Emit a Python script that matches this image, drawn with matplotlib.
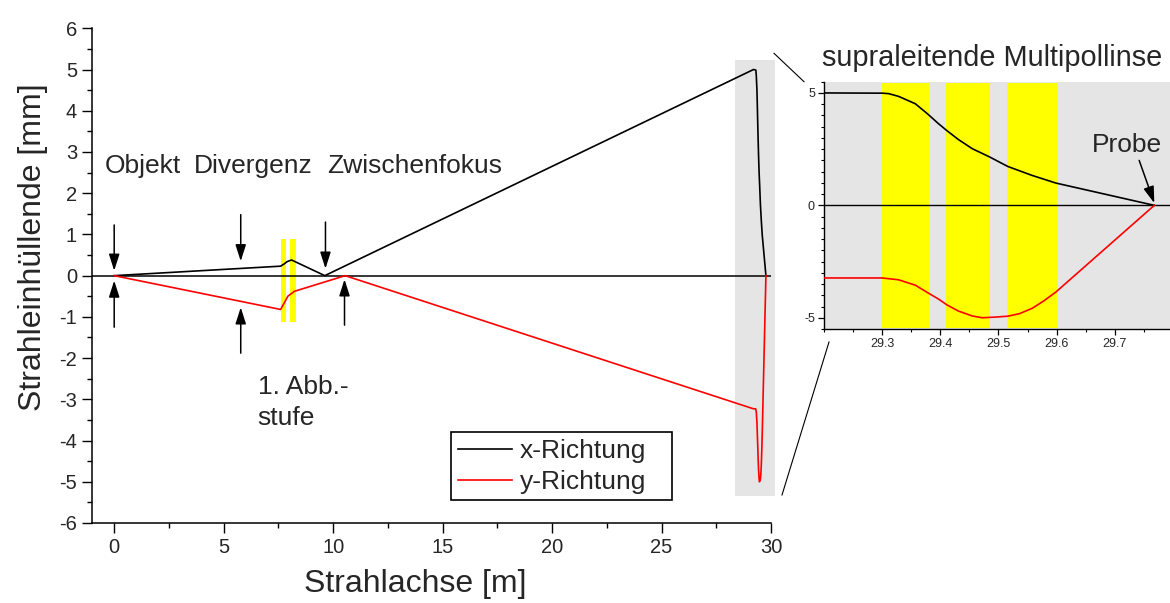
import matplotlib
matplotlib.use("Agg")
import matplotlib.pyplot as plt
from matplotlib.lines import Line2D
from matplotlib.patches import Rectangle

plt.rcParams['font.family'] = ['Liberation Sans', 'DejaVu Sans']
plt.rcParams['axes.unicode_minus'] = False

# Beam axis positions [m] and envelope values [mm]
pos_x = [0, 7.6, 7.75, 7.9, 8.1, 9.62, 29.2, 29.3, 29.311, 29.328, 29.357,
         29.378, 29.397, 29.411, 29.431, 29.455, 29.485, 29.516, 29.558,
         29.599, 29.768]
env_x = [0, 0.23, 0.28, 0.34, 0.38, 0.0, 5.0, 4.99, 4.97, 4.85, 4.52,
         4.07, 3.63, 3.33, 2.93, 2.52, 2.15, 1.73, 1.33, 0.99, 0.0]

pos_y = [0, 7.6, 7.77, 7.93, 8.23, 10.55, 29.2, 29.3, 29.328, 29.357,
         29.378, 29.397, 29.411, 29.431, 29.455, 29.472, 29.495, 29.516,
         29.536, 29.558, 29.578, 29.599, 29.768]
env_y = [0, -0.82, -0.66, -0.50, -0.38, 0.0, -3.23, -3.23, -3.31, -3.55,
         -3.88, -4.17, -4.42, -4.70, -4.92, -5.0, -4.97, -4.93,
         -4.82, -4.58, -4.25, -3.85, 0.0]

# Lens regions (start, end) [m]
lenses_stage1 = [(7.6, 7.86), (8.05, 8.32)]
lenses_multipole = [(29.3, 29.38), (29.41, 29.485), (29.515, 29.6)]

legend_labels = ['x-Richtung', 'y-Richtung']
main_xticks = [0, 5, 10, 15, 20, 25, 30]
main_yticks = [-6, -5, -4, -3, -2, -1, 0, 1, 2, 3, 4, 5, 6]
inset_xticks = [29.3, 29.4, 29.5, 29.6, 29.7]
inset_yticks = [-5, 0, 5]

W, H = 1170, 603
fig = plt.figure(figsize=(W / 100, H / 100), dpi=100)

TXT = '#262626'
FS = 19

# ---------------- main axes ----------------
ax = fig.add_axes([92.3 / W, (H - 523) / H, (771 - 92.3) / W, (523 - 28.3) / H])
ax.set_xlim(-1, 30)
ax.set_ylim(-6, 6)
for s in ['top', 'right']:
    ax.spines[s].set_visible(False)
for s in ['left', 'bottom']:
    ax.spines[s].set_linewidth(1.1)

ax.set_xticks(main_xticks)
ax.set_xticks([v + 2.5 for v in main_xticks[:-1]], minor=True)
ax.set_yticks(main_yticks)
ax.set_yticks([v + 0.5 for v in main_yticks[:-1]], minor=True)
ax.tick_params(which='major', direction='out', length=7, width=1.0,
               labelsize=14.5, pad=4, colors='black', labelcolor=TXT)
ax.tick_params(which='minor', direction='out', length=3.5, width=1.0)

ax.set_xlabel('Strahlachse [m]', fontsize=23, color=TXT)
ax.xaxis.set_label_coords(0.4755, -0.092)
ax.set_ylabel('Strahleinhüllende [mm]', fontsize=23, color=TXT)
ax.yaxis.set_label_coords(-0.066, 0.558)

# shaded multipole region
ax.fill_between([28.35, 30.2], -5.35, 5.23, color='#e5e5e5', lw=0,
                zorder=0.5, clip_on=False)
for a, b in lenses_stage1:
    ax.fill_between([a, b], -1.12, 0.88, color='#ffff00', lw=0, zorder=1)

ax.axhline(0, color='black', lw=1.1, zorder=1.5)
ax.plot(pos_x, env_x, color='black', lw=1.2, zorder=3, label=legend_labels[0])
ax.plot(pos_y, env_y, color='#ff0000', lw=1.2, zorder=3, label=legend_labels[1])

# legend: entries without frame, box drawn separately
ax.add_patch(Rectangle((15.38, -5.43), 25.48 - 15.38, 5.43 - 3.79,
                       fill=True, facecolor='white', edgecolor='black',
                       lw=1.2, zorder=4))
leg = ax.legend(loc='upper left', bbox_to_anchor=(0.5384, 0.170),
                borderaxespad=0, fontsize=FS, frameon=False,
                handlelength=2.05, handletextpad=0.3, borderpad=0.0,
                labelspacing=0.27)
leg.set_zorder(5)
for t in leg.get_texts():
    t.set_color(TXT)

# annotation labels
ax.text(-0.45, 2.5, 'Objekt', fontsize=FS, color=TXT)
ax.text(3.62, 2.5, 'Divergenz', fontsize=FS, color=TXT)
ax.text(9.72, 2.5, 'Zwischenfokus', fontsize=FS, color=TXT)
ax.text(6.55, -2.88, '1. Abb.-', fontsize=FS, color=TXT)
ax.text(6.55, -3.62, 'stufe', fontsize=FS, color=TXT)

arrow_kw = dict(arrowstyle='-|>,head_length=1.0,head_width=0.32',
                color='black', lw=1.1, shrinkA=0, shrinkB=0,
                mutation_scale=10)
arrows = [((0, 1.23), (0, 0.12)), ((5.78, 1.48), (5.78, 0.35)),
          ((9.65, 1.3), (9.65, 0.17)), ((0, -1.25), (0, -0.12)),
          ((5.78, -1.88), (5.78, -0.77)), ((10.52, -1.2), (10.52, -0.09))]
for start, end in arrows:
    ax.annotate('', xy=end, xytext=start, arrowprops=arrow_kw)

# ---------------- inset: superconducting multipole lens ----------------
ai = fig.add_axes([824 / W, (H - 329) / H, (W - 824) / W, (329 - 81.7) / H])
ai.set_facecolor('#e5e5e5')
ai.set_xlim(29.2, 29.795)
ai.set_ylim(-5.5, 5.5)
for s in ['top', 'right']:
    ai.spines[s].set_visible(False)
for s in ['left', 'bottom']:
    ai.spines[s].set_linewidth(1.0)
ai.set_xticks(inset_xticks)
ai.set_xticks([29.2 + 0.05 * i for i in range(12)], minor=True)
ai.set_yticks(inset_yticks)
ai.set_yticks([-5.5 + 0.5 * i for i in range(23)], minor=True)
ai.tick_params(which='major', direction='out', length=4, width=0.9,
               labelsize=9, pad=2.5, labelcolor=TXT)
ai.tick_params(which='minor', direction='out', length=2.5, width=0.8)
ai.xaxis.set_major_formatter(matplotlib.ticker.FormatStrFormatter('%.1f'))

for a, b in lenses_multipole:
    ai.fill_between([a, b], -5.45, 5.42, color='#ffff00', lw=0, zorder=1)
ai.axhline(0, color='black', lw=1.0, zorder=1.5)
ai.plot(pos_x, env_x, color='black', lw=1.2, zorder=3)
ai.plot(pos_y, env_y, color='#ff0000', lw=1.2, zorder=3)

ai.text(29.66, 2.37, 'Probe', fontsize=FS, color=TXT)
ai.annotate('', xy=(29.768, 0.1), xytext=(29.742, 2.0),
            arrowprops=arrow_kw)

fig.text(821.7 / W, 1 - 66 / H, 'supraleitende Multipollinse',
         fontsize=20.8, color=TXT, va='baseline', ha='left')

# connector lines between shaded region and inset
for (x0, y0), (x1, y1) in [((774, 53.3), (804, 81.7)),
                           ((782, 495), (829, 342))]:
    fig.add_artist(Line2D([x0 / W, x1 / W], [1 - y0 / H, 1 - y1 / H],
                          transform=fig.transFigure, color='black', lw=0.8))

fig.savefig('out.png', dpi=100, facecolor='white')
